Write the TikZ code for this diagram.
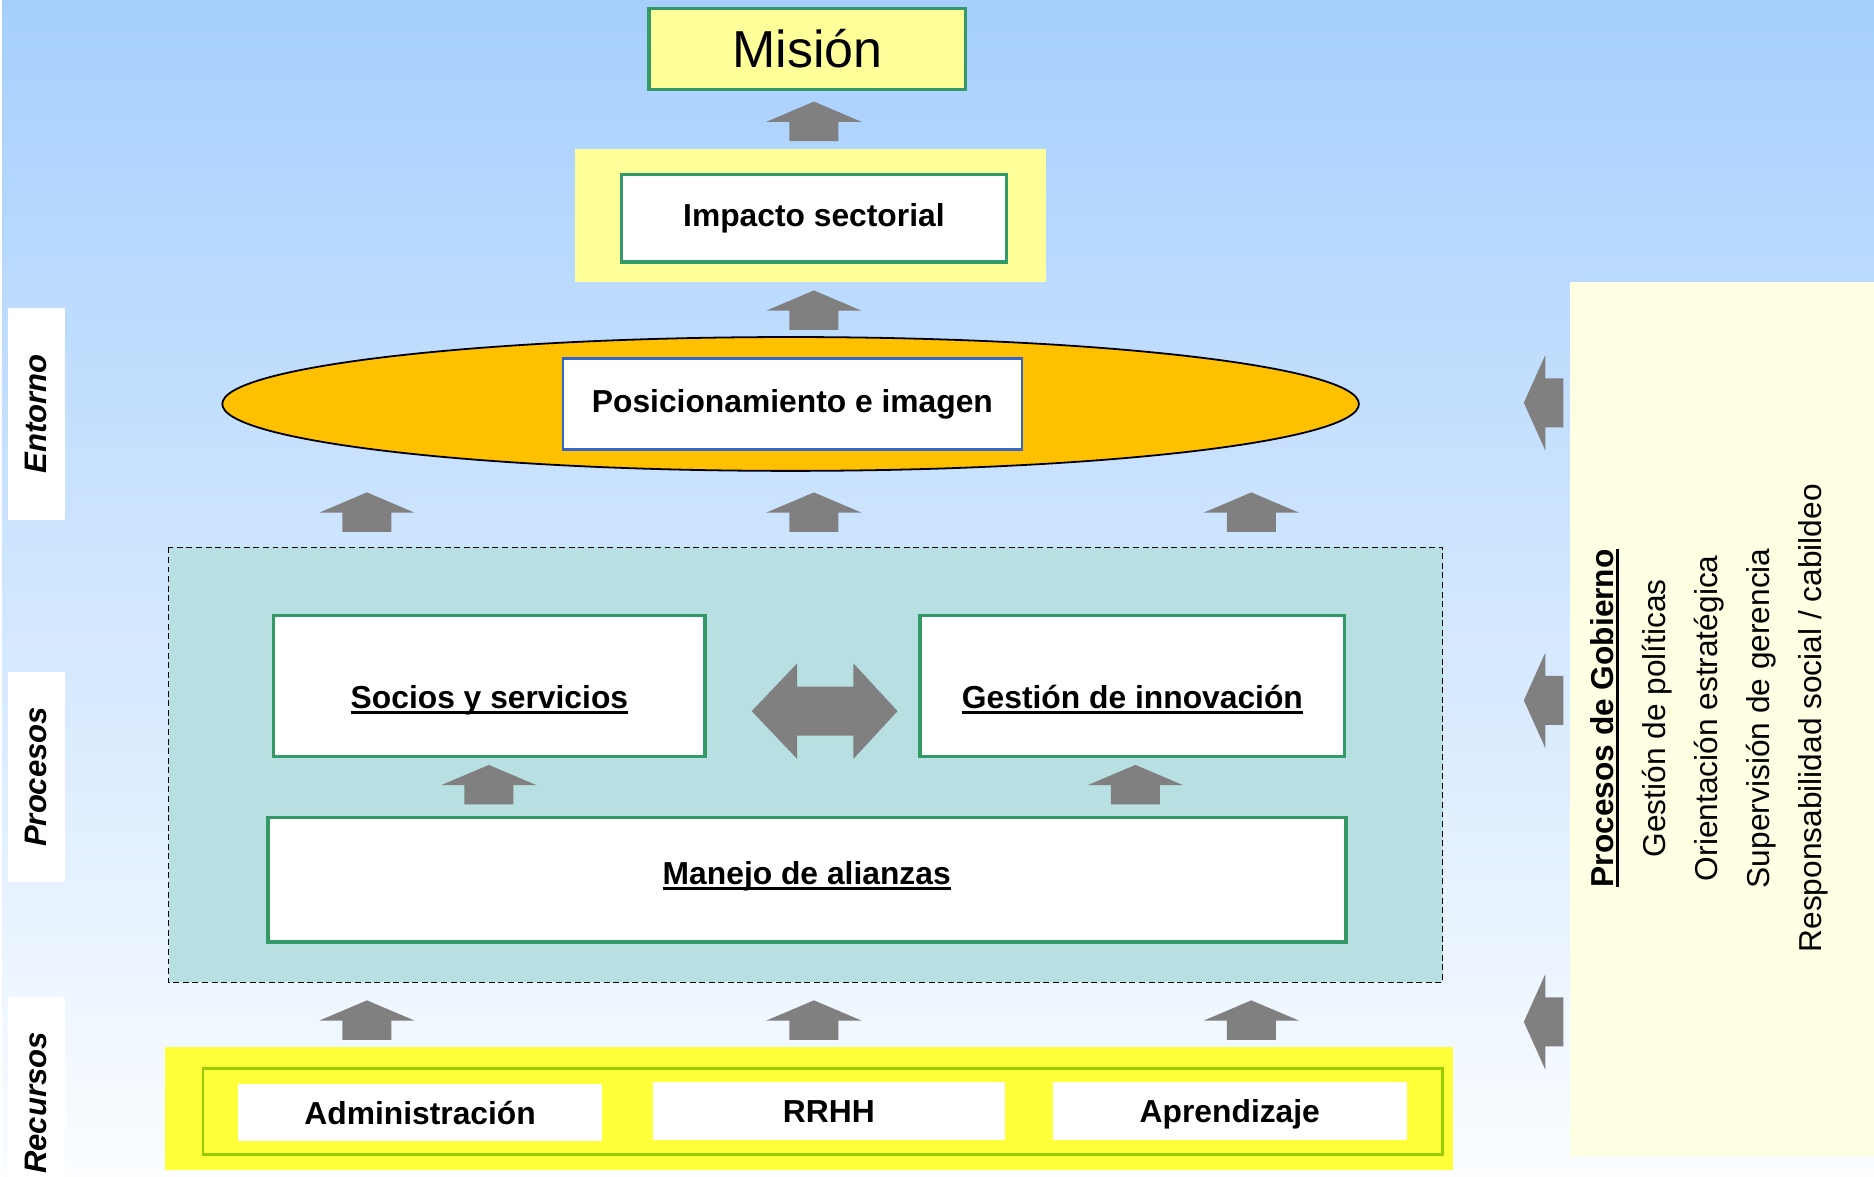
\documentclass[tikz,border=0pt]{standalone}
\usepackage{fontspec}
\setmainfont{Liberation Sans}
\usetikzlibrary{shapes.geometric}

\definecolor{skytop}{HTML}{A6CFFE}
\definecolor{skybottom}{HTML}{FBFDFF}
\definecolor{boxgreen}{HTML}{339966}
\definecolor{paleyellow}{HTML}{FFFF99}
\definecolor{bandyellow}{HTML}{FFFF3A}
\definecolor{bandgreen}{HTML}{99CC00}
\definecolor{procteal}{HTML}{B8E0E3}
\definecolor{ringorange}{HTML}{FFC000}
\definecolor{govcream}{HTML}{FFFFE4}
\definecolor{arrgray}{HTML}{808080}
\definecolor{posblue}{HTML}{3366CC}

\newcommand{\undl}[1]{\setbox0\hbox{#1}\rlap{\rule[-4.5pt]{\wd0}{2.5pt}}\box0}

\tikzset{
  uparr/.pic={\fill[arrgray] (0,0) -- (40,17) -- (20.5,17) -- (20.5,33) -- (-20.5,33) -- (-20.5,17) -- (-40,17) -- cycle;},
  leftarr/.pic={\fill[arrgray] (0,0) -- (18,-40) -- (18,-20.5) -- (33,-20.5) -- (33,20.5) -- (18,20.5) -- (18,40) -- cycle;},
  greenbox/.style={draw=boxgreen,line width=3pt,fill=white,inner sep=0pt},
  boldtxt/.style={font=\fontsize{26.6}{30}\selectfont\bfseries},
  sidelabel/.style={fill=white,rotate=90,inner sep=0pt,minimum height=47pt,
    font=\fontsize{26}{30}\selectfont\bfseries\itshape},
  whitecell/.style={fill=white,inner sep=0pt,minimum height=48pt,boldtxt,
    text height=19pt,text depth=0pt}
}

\begin{document}
\begin{tikzpicture}[x=1pt,y=-1pt]
    \useasboundingbox (0,0) rectangle (1568,984);
    \shade[top color=skytop,bottom color=skybottom] (2,0) rectangle (1568,984);

    \node[sidelabel,minimum width=177pt] (entornolab) at (30.5,346.5) {Entorno};
    \node[sidelabel,minimum width=176pt] (procesoslab) at (30.5,650) {Procesos};
    \node[sidelabel,minimum width=178pt] (recursoslab) at (30.5,923) {Recursos};

    \node[greenbox,fill=paleyellow,minimum width=265pt,minimum height=68pt,
      font=\fontsize{43.5}{48}\selectfont] (mision) at (675.5,41) {Misión};
    \pic at (681,85) {uparr};

    \node[fill=paleyellow,minimum width=394pt,minimum height=111pt] (impactoband) at (678,180.5) {};
    \node[greenbox,boldtxt,minimum width=322pt,minimum height=73pt] (impacto) at (681,182.5) {Impacto sectorial};
    \pic at (681,243) {uparr};

    \node[ellipse,draw,line width=1.5pt,fill=ringorange,minimum width=951pt,minimum height=112pt] (entorno) at (661.5,338) {};
    \node[draw=posblue,line width=2pt,fill=white,boldtxt,minimum width=384pt,minimum height=76pt] (posicion) at (663,338) {Posicionamiento e imagen};
    \pic at (307,412) {uparr};
    \pic at (681,412) {uparr};
    \pic at (1047,412) {uparr};

    \draw[fill=procteal,line width=1.2pt,dash pattern=on 5pt off 3pt] (141,458) rectangle (1207,822);
    \node[greenbox,boldtxt,minimum width=361pt,minimum height=118pt,text height=43pt,text depth=6pt] (socios) at (409.5,574) {\undl{Socios y servicios}};
    \node[greenbox,boldtxt,minimum width=355pt,minimum height=118pt,text height=43pt,text depth=6pt] (gestion) at (947.5,574) {\undl{Gestión de innovación}};
    \fill[arrgray] (629,595) -- (667,555) -- (667,574.5) -- (714,574.5) -- (714,555) -- (751,595)
      -- (714,635) -- (714,615.5) -- (667,615.5) -- (667,635) -- cycle;
    \pic at (409,640) {uparr};
    \pic at (950,640) {uparr};
    \node[greenbox,boldtxt,minimum width=902pt,minimum height=104pt,text height=14pt,text depth=6pt] (manejo) at (675,736) {\undl{Manejo de alianzas}};

    \pic at (307,837) {uparr};
    \pic at (681,837) {uparr};
    \pic at (1047,837) {uparr};

    \fill[bandyellow] (138,876) rectangle (1216,979);
    \draw[bandgreen,line width=2pt] (170,894) rectangle (1207,966);
    \node[whitecell,minimum width=305pt] (admin) at (351.5,931) {Administración};
    \node[whitecell,minimum width=295pt] (rrhh) at (693.5,929.5) {RRHH};
    \node[whitecell,minimum width=296pt] (aprend) at (1029,929.5) {Aprendizaje};

    \fill[govcream] (1314,236) rectangle (1568,967);
    \pic at (1275,337) {leftarr};
    \pic at (1275,586) {leftarr};
    \pic at (1275,855) {leftarr};
    \node[rotate=90,align=center,font=\fontsize{26.5}{43.5}\selectfont] (gobierno) at (1430,601)
      {{\bfseries\undl{Procesos de Gobierno}}\\Gestión de políticas\\Orientación estratégica\\
       Supervisión de gerencia\\Responsabilidad social / cabildeo};
\end{tikzpicture}
\end{document}
